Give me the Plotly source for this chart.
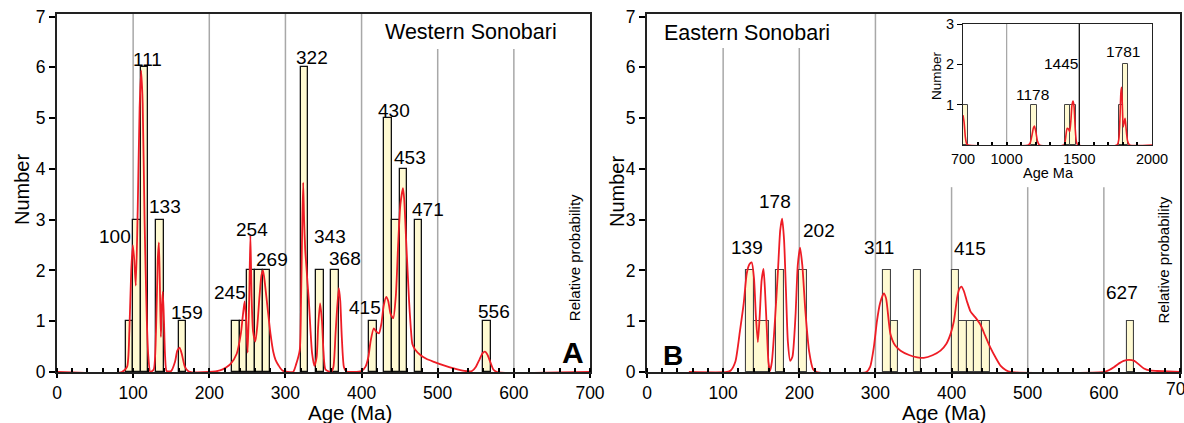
import plotly.graph_objects as go

# ---------------- DATA ----------------
# Panel A (Western Sonobari) histogram bins (Ma) and counts
a_bin_lo = [90, 100, 110, 130, 160, 230, 240, 250, 260, 270, 320, 340, 360, 410, 430, 440, 450, 470, 560]
a_bin_hi = [100, 110, 120, 140, 170, 240, 250, 260, 270, 280, 330, 350, 370, 420, 440, 450, 460, 480, 570]
a_count = [1, 3, 6, 3, 1, 1, 1, 2, 2, 2, 6, 2, 2, 1, 5, 3, 4, 3, 1]

# Panel A probability curve (age Ma, value in Number units)
a_curve_age = [0, 85, 92, 95, 97.5, 99.6, 101.5, 103.5, 106, 108.5, 110.5, 112.5, 115, 118, 120, 122.5,
               127, 130, 132.3, 133.8, 135, 136.4, 137.8, 139, 140.5, 142, 144, 150, 155, 158, 161, 164,
               168, 173, 200, 214, 222, 228, 236, 241.5, 244, 246.4, 248.5, 250.4, 252.5, 254, 255.5,
               257.5, 260.5, 263, 266, 268.5, 270.6, 273, 277, 280.3, 284, 287, 291, 296, 310, 314,
               318.8, 320.5, 322, 323.3, 324.5, 326, 327.6, 329, 330.7, 333, 335, 338, 341, 343, 345.5,
               348, 350, 352.6, 360, 363, 366, 370, 372, 374, 376.8, 380, 400, 405, 409, 411.8, 416,
               419, 422.8, 426, 429, 432.4, 435, 438, 441.6, 445, 448, 451, 454.4, 456, 458.5, 462.3,
               464.5, 466.7, 470, 477.6, 485, 495, 508, 521, 535, 545, 550, 555, 559, 562, 565, 569,
               573, 578, 700]
a_curve_val = [0, 0, 0.1, 0.8, 2.0, 2.5, 2.2, 1.7, 3.2, 5.2, 5.94, 5.3, 3.0, 1.0, 0.3, 0.0,
               0.05, 0.8, 2.2, 2.55, 1.8, 0.69, 1.3, 1.58, 1.0, 0.3, 0.02, 0.02, 0.2, 0.42, 0.48, 0.35,
               0.1, 0.01, 0.0, 0.03, 0.09, 0.16, 0.36, 0.76, 1.1, 1.39, 1.0, 0.38, 1.5, 2.69, 1.5,
               0.8, 0.6, 0.9, 1.5, 1.9, 2.0, 1.75, 1.2, 0.76, 0.4, 0.24, 0.13, 0.03, 0.0, 0.15,
               0.43, 1.4, 2.8, 3.73, 3.0, 2.4, 2.07, 1.75, 1.42, 0.8, 0.37, 0.12, 0.3, 0.9, 1.35,
               1.0, 0.4, 0.05, 0.0, 0.1, 0.8, 1.65, 1.4, 0.7, 0.1, 0.01, 0.02, 0.1, 0.3, 0.6, 0.86,
               0.8, 0.76, 0.95, 1.3, 1.48, 1.4, 1.15, 1.06, 1.5, 2.5, 3.3, 3.62, 3.4, 2.6, 1.42,
               0.9, 0.55, 0.45, 0.33, 0.26, 0.2, 0.13, 0.07, 0.02, 0.02, 0.1, 0.25, 0.37, 0.4, 0.35, 0.2,
               0.05, 0.0, 0.0]

# Panel B (Eastern Sonobari) histogram
b_bin_lo = [130, 140, 170, 200, 310, 320, 350, 400, 410, 420, 430, 440, 630]
b_bin_hi = [140, 160, 180, 210, 320, 330, 360, 410, 420, 430, 440, 450, 640]
b_count = [2, 1, 2, 2, 2, 1, 2, 2, 1, 1, 1, 1, 1]

b_curve_age = [55, 105, 110, 116, 122, 127, 131, 134.5, 137.5, 140.5, 143, 145.6, 148, 150.5, 153,
               155, 157.5, 159.5, 161.5, 164, 168, 172, 175, 177.5, 180, 182.5, 185, 188, 191, 195,
               198, 201, 204, 208, 213, 218, 223, 288, 293, 298, 302, 306, 311, 314, 319.7, 326,
               333, 345, 355, 363.6, 375, 385.5, 393, 398.7, 403, 407.5, 410, 413, 416, 420, 425,
               431, 438, 444, 451, 458, 464.5, 471, 477.6, 600, 607, 613.6, 620, 626, 633, 640, 646,
               652.6, 660, 670, 700]
b_curve_val = [0, 0, 0.03, 0.2, 0.8, 1.35, 1.94, 2.12, 2.16, 1.85, 1.1, 0.59, 1.1, 1.8, 2.03,
               1.6, 0.8, 0.2, 0.02, 0.2, 1.0, 2.0, 2.8, 3.02, 2.6, 1.6, 0.6, 0.22, 0.3, 1.1,
               2.1, 2.45, 2.1, 1.2, 0.4, 0.06, 0.0, 0.0, 0.1, 0.5, 1.0, 1.35, 1.55, 1.45, 0.75, 0.52,
               0.42, 0.33, 0.29, 0.28, 0.33, 0.42, 0.55, 0.75, 1.0, 1.48, 1.63, 1.68, 1.6, 1.4, 1.19,
               1.08, 0.93, 0.72, 0.48, 0.28, 0.12, 0.04, 0.0, 0.0, 0.04, 0.1, 0.17, 0.22, 0.24, 0.22, 0.15,
               0.07, 0.03, 0.02, 0.0]

# Inset (Eastern Sonobari, 700-2000 Ma)
i_bin_lo = [700, 1170, 1400, 1438, 1772, 1800]
i_bin_hi = [737, 1207, 1438, 1475, 1800, 1836]
i_count = [1, 1, 1, 1, 1, 2]

i_curve_age = [700, 708, 716, 725, 735, 1150, 1162, 1175, 1184, 1191, 1200, 1212, 1225, 1395, 1405,
               1416, 1425, 1434, 1442, 1450, 1457, 1464, 1472, 1480, 1490, 1760, 1772, 1780, 1786,
               1791, 1796, 1802, 1808, 1815, 1822, 1832, 1845, 2000]
i_curve_val = [0.74, 0.55, 0.2, 0.03, 0.0, 0.0, 0.05, 0.25, 0.42, 0.47, 0.35, 0.1, 0.0, 0.0, 0.15,
               0.41, 0.4, 0.33, 0.6, 1.0, 1.09, 0.95, 0.4, 0.08, 0.0, 0.0, 0.15, 0.7, 1.3,
               1.43, 1.0, 0.45, 0.55, 0.66, 0.4, 0.1, 0.0, 0.0]

# Peak labels
a_peaks = ["100", "111", "133", "159", "245", "254", "269", "322", "343", "368", "415", "430", "453", "471", "556"]
b_peaks = ["139", "178", "202", "311", "415", "627"]
i_peaks = ["1178", "1445", "1781"]

x_ticks_main = [0, 100, 200, 300, 400, 500, 600, 700]
y_ticks_main = [0, 1, 2, 3, 4, 5, 6, 7]
x_ticks_inset = [700, 1000, 1500, 2000]
y_ticks_inset = [1, 2, 3]

# ---------------- LAYOUT CONSTANTS ----------------
W, H = 1184, 423
FONT = "Liberation Sans, Arial, Helvetica, sans-serif"
BAR_FILL = "#FFFAD2"
RED = "#EE1C25"
GRID = "#A8A8A8"


def px(x):
    return x / W


def py(y):
    return 1 - y / H


fig = go.Figure()


def add_bars(lo, hi, cnt, xa, ya, edge, lw):
    centers = [(a + b) / 2 for a, b in zip(lo, hi)]
    widths = [b - a for a, b in zip(lo, hi)]
    fig.add_trace(go.Bar(x=centers, y=cnt, width=widths, base=0, xaxis=xa, yaxis=ya,
                         marker=dict(color=BAR_FILL, line=dict(color=edge, width=lw)),
                         showlegend=False, hoverinfo="skip"))


def add_curve(ages, vals, xa, ya, w=1.8):
    fig.add_trace(go.Scatter(x=ages, y=vals, mode="lines", xaxis=xa, yaxis=ya,
                             line=dict(color=RED, width=w, shape="spline", smoothing=0.6),
                             showlegend=False, hoverinfo="skip"))


add_bars(a_bin_lo, a_bin_hi, a_count, "x", "y", "#111111", 1.3)
add_curve(a_curve_age, a_curve_val, "x", "y")
add_bars(b_bin_lo, b_bin_hi, b_count, "x2", "y2", "#444444", 1.1)
add_curve(b_curve_age, b_curve_val, "x2", "y2")
add_bars(i_bin_lo, i_bin_hi, i_count, "x3", "y3", "#444444", 1.0)
add_curve(i_curve_age, i_curve_val, "x3", "y3", 1.6)

YTOP = 7.05
main_x = dict(range=[0, 700], tickmode="array", tickvals=x_ticks_main, ticks="outside", ticklen=4,
              tickwidth=1.5, tickcolor="black", showline=True, mirror=True, linecolor="#222222",
              linewidth=1.8, showgrid=False, zeroline=False, automargin=False,
              tickfont=dict(family=FONT, size=17.5, color="black"),
              minor=dict(dtick=20, ticks="inside", ticklen=4, tickwidth=1.5, tickcolor="black", showgrid=False))
main_y = dict(range=[0, YTOP], tickmode="array", tickvals=y_ticks_main, ticks="outside", ticklen=6,
              tickwidth=1.5, tickcolor="black", showline=True, mirror=True, linecolor="#222222",
              linewidth=1.8, showgrid=False, zeroline=False, automargin=False,
              tickfont=dict(family=FONT, size=17.5, color="black"))

fig.update_layout(
    template="none",
    width=W, height=H, margin=dict(l=0, r=0, t=0, b=0, pad=0),
    paper_bgcolor="white", plot_bgcolor="rgba(0,0,0,0)", barmode="overlay", bargap=0,
    font=dict(family=FONT, color="black"),
    xaxis=dict(domain=[px(57), px(590)], anchor="y", **main_x),
    yaxis=dict(domain=[py(372), py(14)], anchor="x", **main_y),
    xaxis2=dict(domain=[px(647), px(1180)], anchor="y2", **main_x),
    yaxis2=dict(domain=[py(372), py(14)], anchor="x2", **main_y),
    xaxis3=dict(domain=[px(963), px(1152)], anchor="y3", range=[700, 2000], tickmode="array",
                tickvals=x_ticks_inset, ticks="inside", ticklen=3, tickwidth=1.5, tickcolor="black",
                showline=True, mirror=True, linecolor="#222222", linewidth=1.2, showgrid=False,
                zeroline=False, automargin=False, tickfont=dict(family=FONT, size=14.5, color="black"),
                minor=dict(dtick=100, ticks="inside", ticklen=3, tickwidth=1.5, tickcolor="black", showgrid=False)),
    yaxis3=dict(domain=[py(145), py(24)], anchor="x3", range=[0, 3], tickmode="array",
                tickvals=y_ticks_inset, ticks="outside", ticklen=5, tickcolor="black",
                showline=True, mirror=True, linecolor="#222222", linewidth=1.2, showgrid=False,
                zeroline=False, automargin=False, tickfont=dict(family=FONT, size=14.5, color="black")),
)

# vertical grid lines (drawn below data)
shapes = []
for v, top in [(100, YTOP), (200, YTOP), (300, YTOP), (400, YTOP), (500, 6.36), (600, 6.36)]:
    shapes.append(dict(type="line", xref="x", yref="y", x0=v, x1=v, y0=0, y1=top,
                       line=dict(color=GRID, width=1.5), layer="below"))
for v, top in [(100, 6.38), (200, 6.38), (300, YTOP), (400, 3.64), (500, 3.64), (600, 3.64)]:
    shapes.append(dict(type="line", xref="x2", yref="y2", x0=v, x1=v, y0=0, y1=top,
                       line=dict(color=GRID, width=1.5), layer="below"))
shapes.append(dict(type="line", xref="x3", yref="y3", x0=1000, x1=1000, y0=0, y1=3,
                   line=dict(color=GRID, width=1.3), layer="below"))
shapes.append(dict(type="line", xref="x3", yref="y3", x0=1500, x1=1500, y0=0, y1=3,
                   line=dict(color="#111111", width=1.3), layer="below"))
fig.update_layout(shapes=shapes)

ann = []


def label(text, x, y, xref, yref, size=19, angle=0, bold=False):
    t = f"<b>{text}</b>" if bold else text
    ann.append(dict(text=t, x=x, y=y, xref=xref, yref=yref, showarrow=False, textangle=angle,
                    xanchor="center", yanchor="middle", font=dict(family=FONT, size=size, color="black")))


a_pos = [(76.3, 2.66), (118.4, 6.16), (142.1, 3.25), (171.1, 1.18), (227.6, 1.56), (256.6, 2.81),
         (282.9, 2.22), (335.1, 6.2), (357.9, 2.66), (377.6, 2.24), (403.9, 1.28), (442.1, 5.14),
         (463.2, 4.23), (486.8, 3.21), (573.7, 1.2)]
for t, (x, y) in zip(a_peaks, a_pos):
    label(t, x, y, "x", "y")
b_pos = [(131.9, 2.46), (168.5, 3.35), (226.0, 2.78), (304.4, 2.46), (424.6, 2.44), (624.4, 1.56)]
for t, (x, y) in zip(b_peaks, b_pos):
    label(t, x, y, "x2", "y2")
i_pos = [(1179, 1.26), (1372.6, 2.03), (1803, 2.31)]
for t, (x, y) in zip(i_peaks, i_pos):
    label(t, x, y, "x3", "y3", size=15.5)

label("Western Sonobari", 543.4, 6.69, "x", "y", size=21.5)
label("Eastern Sonobari", 131.9, 6.67, "x2", "y2", size=21.5)
label("A", 677.6, 0.39, "x", "y", size=30, bold=True)
label("B", 34, 0.33, "x2", "y2", size=28, bold=True)
label("Relative probability", 678.9, 2.26, "x", "y", size=15, angle=-90)
label("Relative probability", 678.0, 2.2, "x2", "y2", size=15, angle=-90)

# last tick label of panel B, partly cut by the page edge as in the reference
ann.append(dict(text=str(x_ticks_main[-1]), x=x_ticks_main[-1], y=py(389), xref="x2", yref="paper",
                showarrow=False, xanchor="center", yanchor="middle",
                font=dict(family=FONT, size=17.5, color="black")))

label("Number", px(22), py(190), "paper", "paper", size=20, angle=-90)
label("Number", px(617), py(192), "paper", "paper", size=20, angle=-90)
label("Age (Ma)", px(350), py(412), "paper", "paper", size=20.5)
label("Age (Ma)", px(944), py(412), "paper", "paper", size=20.5)
label("Number", px(936), py(76), "paper", "paper", size=13.5, angle=-90)
label("Age Ma", px(1048), py(173), "paper", "paper", size=14.5)

fig.update_layout(annotations=ann)

fig.write_html("out.html", config={"displayModeBar": False},
               post_script="document.body.style.margin='0px';document.body.style.padding='0px';")
